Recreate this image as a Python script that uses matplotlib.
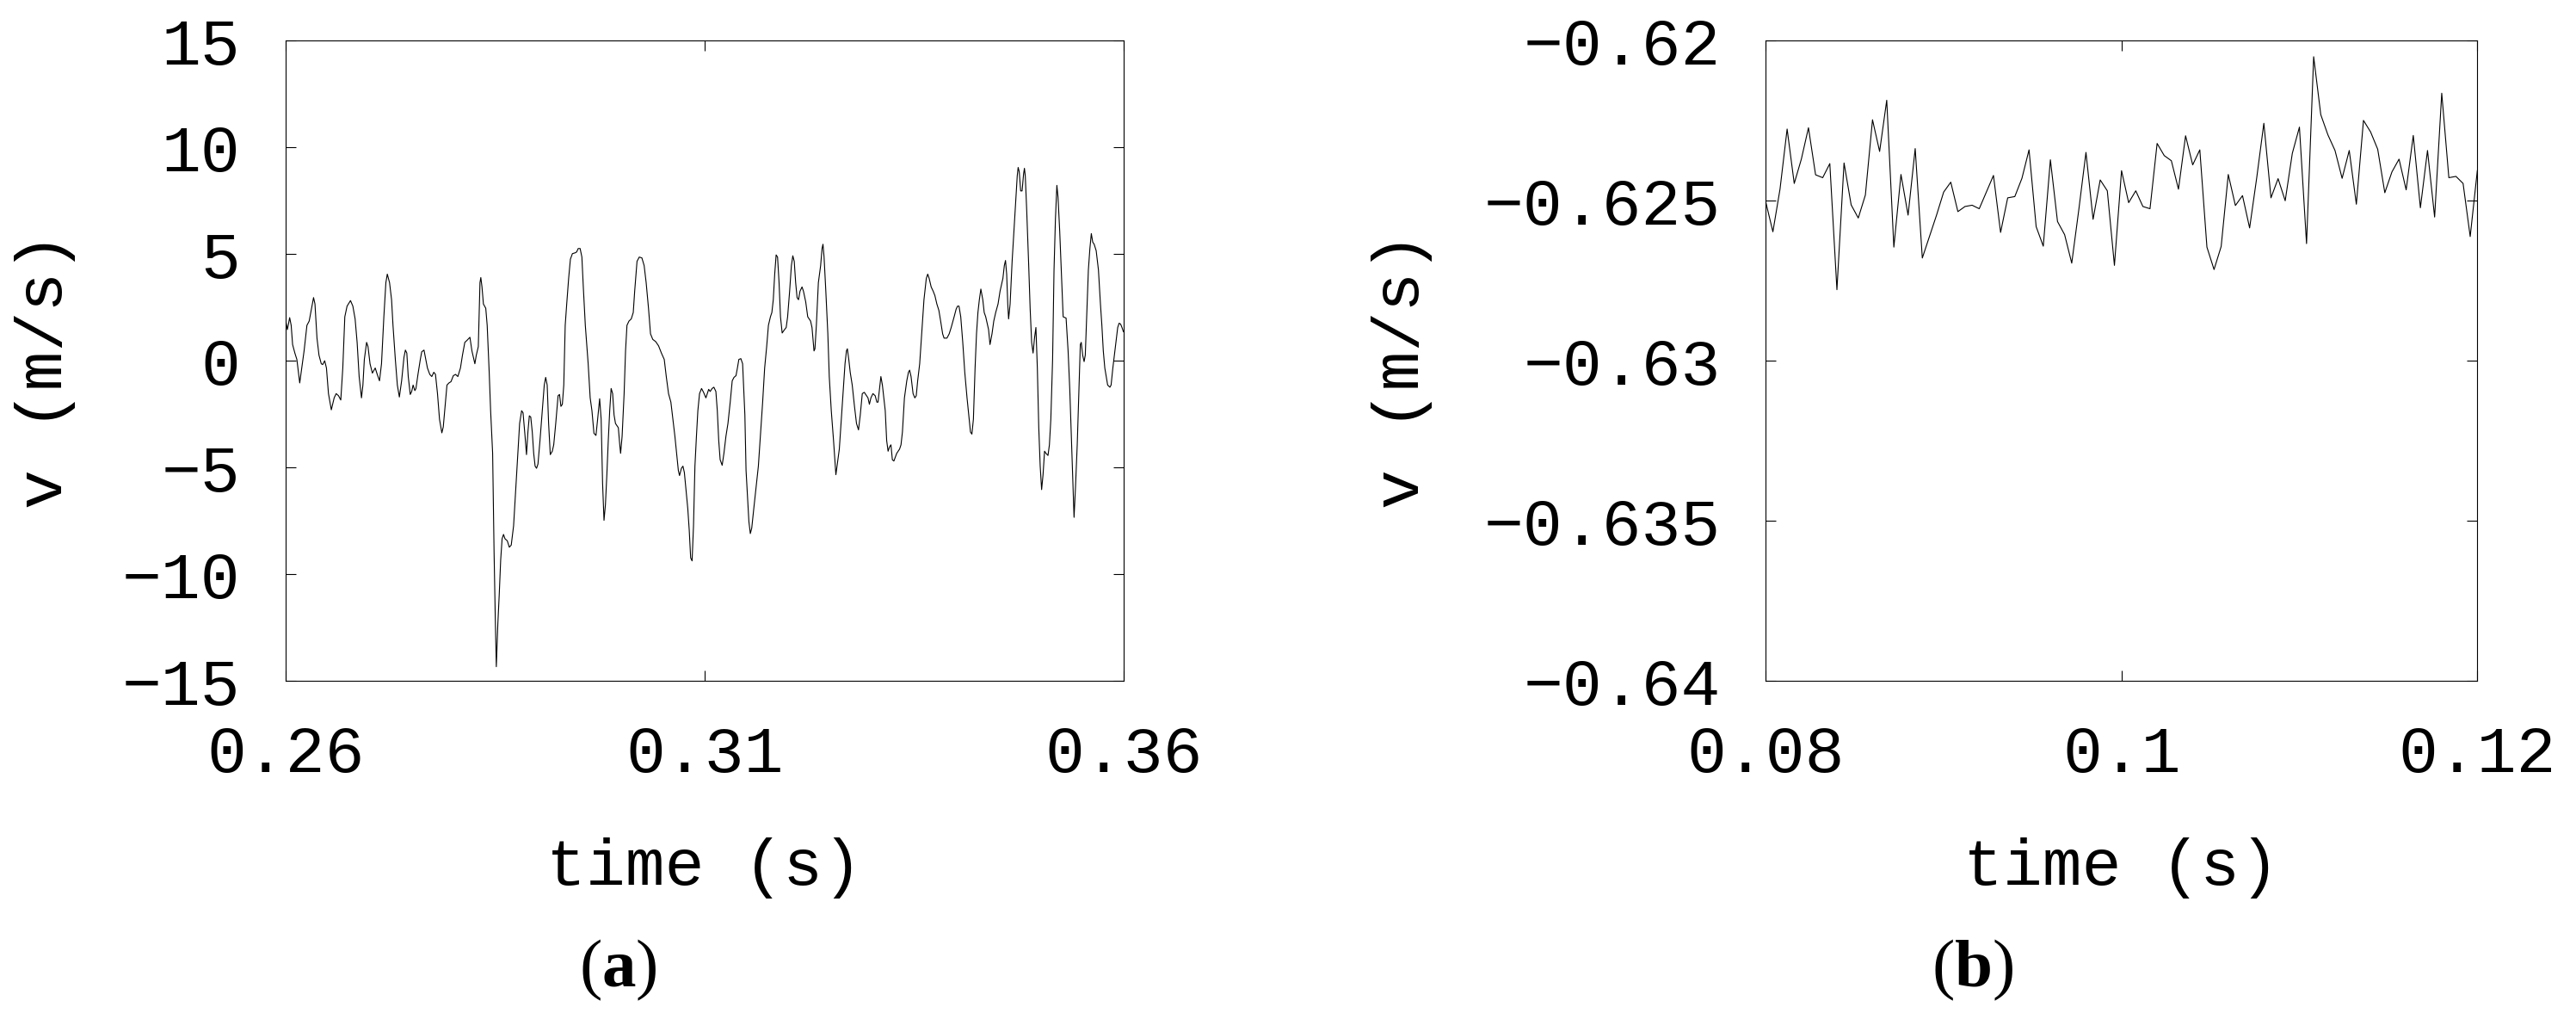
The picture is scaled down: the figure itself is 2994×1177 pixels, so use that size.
import matplotlib
matplotlib.use("Agg")
import matplotlib.pyplot as plt
from matplotlib.ticker import FixedLocator, FixedFormatter

# ---------------- data: panel (a) ----------------
t_a = [0.26000, 0.26024, 0.26051, 0.26069, 0.26086, 0.26113, 0.26137, 0.26171, 0.26195, 0.26223,
       0.26257, 0.26284, 0.26308, 0.26336, 0.26353, 0.26377, 0.26401, 0.26428, 0.26445, 0.26469,
       0.26490, 0.26514, 0.26548, 0.26582, 0.26606, 0.26634, 0.26661, 0.26685, 0.26709, 0.26736,
       0.26777, 0.26805, 0.26832, 0.26856, 0.26880, 0.26908, 0.26925, 0.26942, 0.26969, 0.26986,
       0.27010, 0.27038, 0.27072, 0.27096, 0.27123, 0.27147, 0.27175, 0.27199, 0.27216, 0.27243,
       0.27267, 0.27284, 0.27312, 0.27336, 0.27360, 0.27387, 0.27415, 0.27432, 0.27449, 0.27466,
       0.27490, 0.27507, 0.27524, 0.27545, 0.27558, 0.27582, 0.27610, 0.27627, 0.27654, 0.27671,
       0.27695, 0.27723, 0.27747, 0.27771, 0.27791, 0.27815, 0.27839, 0.27867, 0.27884, 0.27901,
       0.27928, 0.27952, 0.27976, 0.28004, 0.28031, 0.28058, 0.28089, 0.28113, 0.28141, 0.28168,
       0.28202, 0.28226, 0.28261, 0.28278, 0.28302, 0.28322, 0.28332, 0.28346, 0.28363, 0.28391,
       0.28408, 0.28432, 0.28449, 0.28473, 0.28490, 0.28504, 0.28517, 0.28535, 0.28552, 0.28569,
       0.28586, 0.28603, 0.28620, 0.28648, 0.28672, 0.28695, 0.28723, 0.28750, 0.28774, 0.28795,
       0.28819, 0.28836, 0.28860, 0.28877, 0.28894, 0.28911, 0.28928, 0.28946, 0.28963, 0.28980,
       0.28997, 0.29014, 0.29038, 0.29065, 0.29089, 0.29106, 0.29124, 0.29141, 0.29161, 0.29185,
       0.29202, 0.29226, 0.29254, 0.29271, 0.29288, 0.29305, 0.29322, 0.29339, 0.29357, 0.29380,
       0.29401, 0.29425, 0.29459, 0.29476, 0.29494, 0.29517, 0.29538, 0.29555, 0.29579, 0.29613,
       0.29637, 0.29658, 0.29682, 0.29706, 0.29726, 0.29750, 0.29768, 0.29785, 0.29802, 0.29819,
       0.29836, 0.29853, 0.29870, 0.29887, 0.29905, 0.29922, 0.29939, 0.29956, 0.29973, 0.29990,
       0.30000, 0.30018, 0.30042, 0.30059, 0.30076, 0.30100, 0.30127, 0.30151, 0.30168, 0.30196,
       0.30223, 0.30254, 0.30281, 0.30305, 0.30333, 0.30357, 0.30384, 0.30418, 0.30453, 0.30487,
       0.30521, 0.30545, 0.30572, 0.30600, 0.30624, 0.30648, 0.30668, 0.30689, 0.30703, 0.30726,
       0.30744, 0.30761, 0.30778, 0.30802, 0.30819, 0.30836, 0.30853, 0.30870, 0.30887, 0.30905,
       0.30922, 0.30942, 0.30966, 0.30990, 0.31018, 0.31051, 0.31069, 0.31092, 0.31113, 0.31137,
       0.31154, 0.31171, 0.31188, 0.31212, 0.31233, 0.31257, 0.31281, 0.31308, 0.31332, 0.31353,
       0.31377, 0.31394, 0.31411, 0.31435, 0.31456, 0.31469, 0.31483, 0.31497, 0.31514, 0.31531,
       0.31548, 0.31565, 0.31589, 0.31617, 0.31644, 0.31668, 0.31695, 0.31719, 0.31743, 0.31764,
       0.31788, 0.31805, 0.31822, 0.31839, 0.31856, 0.31873, 0.31891, 0.31908, 0.31928, 0.31949,
       0.31976, 0.31993, 0.32017, 0.32038, 0.32055, 0.32072, 0.32089, 0.32106, 0.32123, 0.32141,
       0.32165, 0.32182, 0.32209, 0.32233, 0.32267, 0.32284, 0.32308, 0.32319, 0.32336, 0.32360,
       0.32387, 0.32404, 0.32415, 0.32428, 0.32449, 0.32473, 0.32490, 0.32514, 0.32541, 0.32558,
       0.32569, 0.32586, 0.32610, 0.32634, 0.32654, 0.32678, 0.32695, 0.32706, 0.32723, 0.32740,
       0.32764, 0.32791, 0.32815, 0.32839, 0.32860, 0.32884, 0.32908, 0.32935, 0.32952, 0.32969,
       0.32987, 0.33011, 0.33038, 0.33058, 0.33072, 0.33089, 0.33106, 0.33124, 0.33141, 0.33158,
       0.33175, 0.33192, 0.33209, 0.33226, 0.33243, 0.33261, 0.33295, 0.33329, 0.33346, 0.33363,
       0.33387, 0.33415, 0.33435, 0.33449, 0.33466, 0.33490, 0.33511, 0.33528, 0.33545, 0.33569,
       0.33593, 0.33620, 0.33648, 0.33665, 0.33682, 0.33706, 0.33730, 0.33750, 0.33774, 0.33798,
       0.33819, 0.33843, 0.33860, 0.33894, 0.33921, 0.33945, 0.33980, 0.34004, 0.34021, 0.34038,
       0.34059, 0.34083, 0.34107, 0.34134, 0.34155, 0.34175, 0.34192, 0.34210, 0.34230, 0.34247,
       0.34264, 0.34281, 0.34299, 0.34322, 0.34339, 0.34357, 0.34374, 0.34391, 0.34408, 0.34432,
       0.34453, 0.34476, 0.34504, 0.34528, 0.34545, 0.34562, 0.34579, 0.34593, 0.34607, 0.34620,
       0.34630, 0.34648, 0.34672, 0.34699, 0.34716, 0.34733, 0.34744, 0.34757, 0.34774, 0.34791,
       0.34809, 0.34819, 0.34829, 0.34846, 0.34870, 0.34887, 0.34905, 0.34922, 0.34939, 0.34956,
       0.34973, 0.34990, 0.35007, 0.35024, 0.35041, 0.35059, 0.35076, 0.35100, 0.35117, 0.35134,
       0.35155, 0.35172, 0.35189, 0.35206, 0.35220, 0.35240, 0.35264, 0.35281, 0.35316, 0.35340,
       0.35360, 0.35377, 0.35394, 0.35411, 0.35428, 0.35449, 0.35469, 0.35486, 0.35497, 0.35514,
       0.35531, 0.35545, 0.35562, 0.35582, 0.35600, 0.35617, 0.35634, 0.35651, 0.35675, 0.35702,
       0.35726, 0.35743, 0.35760, 0.35778, 0.35795, 0.35812, 0.35839, 0.35853, 0.35874, 0.35898,
       0.35915, 0.35932, 0.35949, 0.35966, 0.35983, 0.36000]
v_a = [1.96, 1.46, 2.02, 1.66, 0.76, 0.36, 0.06, -1.04, -0.34, 0.46,
       1.66, 1.86, 2.36, 2.96, 2.66, 1.06, 0.26, -0.14, -0.18, 0.00,
       -0.34, -1.54, -2.30, -1.74, -1.54, -1.64, -1.84, -0.34, 2.06, 2.56,
       2.82, 2.56, 1.96, 0.86, -0.74, -1.74, -1.14, 0.06, 0.86, 0.66,
       -0.14, -0.58, -0.34, -0.64, -0.94, -0.14, 2.06, 3.66, 4.06, 3.66,
       2.86, 1.66, 0.06, -1.14, -1.70, -0.94, 0.16, 0.50, 0.36, -0.74,
       -1.58, -1.44, -1.14, -1.40, -1.30, -0.64, 0.06, 0.42, 0.50, 0.16,
       -0.34, -0.64, -0.74, -0.54, -0.64, -1.54, -2.74, -3.38, -3.10, -2.34,
       -1.14, -1.04, -0.98, -0.70, -0.64, -0.74, -0.34, 0.26, 0.86, 0.96,
       1.10, 0.46, -0.14, 0.26, 0.66, 3.66, 3.90, 3.46, 2.66, 2.46,
       1.66, -0.54, -2.34, -4.34, -8.94, -11.94, -14.34, -12.34, -10.94, -9.34,
       -8.34, -8.14, -8.34, -8.44, -8.74, -8.64, -7.74, -5.94, -4.34, -2.94,
       -2.34, -2.44, -3.54, -4.40, -3.34, -2.58, -2.64, -3.34, -4.34, -4.94,
       -5.04, -4.84, -3.74, -2.34, -1.14, -0.78, -1.14, -2.94, -4.40, -4.24,
       -3.94, -2.94, -1.64, -1.58, -2.14, -2.04, -1.14, 1.66, 2.66, 3.86,
       4.76, 5.02, 5.06, 5.10, 5.26, 5.26, 4.86, 3.46, 1.66, -0.14,
       -1.74, -2.34, -3.40, -3.50, -2.74, -1.78, -2.74, -5.74, -7.48, -6.74,
       -5.34, -3.74, -2.34, -1.30, -1.54, -2.54, -2.94, -3.04, -3.14, -3.94,
       -4.34, -3.54, -1.54, 0.46, 1.66, 1.86, 1.96, 2.26, 3.26, 4.66,
       4.86, 4.82, 4.46, 3.66, 2.46, 1.26, 1.00, 0.90, 0.70, 0.36,
       0.06, -0.74, -1.54, -1.94, -2.74, -3.54, -4.34, -5.14, -5.38, -5.04,
       -4.94, -5.24, -5.94, -6.94, -7.94, -9.24, -9.38, -7.74, -4.94, -3.54,
       -2.34, -1.54, -1.30, -1.48, -1.74, -1.34, -1.44, -1.30, -1.24, -1.44,
       -2.34, -3.74, -4.64, -4.90, -4.34, -3.54, -2.94, -1.94, -0.94, -0.78,
       -0.70, -0.34, 0.06, 0.10, -0.14, -1.34, -2.54, -5.14, -6.34, -7.54,
       -8.10, -7.84, -6.94, -5.94, -4.94, -3.54, -1.94, -0.34, 0.66, 1.66,
       2.06, 2.26, 2.86, 4.06, 4.96, 4.86, 3.66, 2.06, 1.30, 1.42,
       1.56, 2.06, 3.26, 4.46, 4.92, 4.66, 3.66, 2.96, 2.86, 3.26,
       3.46, 3.26, 2.76, 2.06, 1.86, 1.56, 0.46, 0.56, 1.66, 3.66,
       4.46, 5.26, 5.46, 4.86, 3.26, 1.26, -0.74, -2.34, -3.74, -4.74,
       -5.34, -4.84, -4.14, -2.74, -1.54, -0.14, 0.46, 0.56, 0.06, -0.54,
       -1.14, -2.14, -2.94, -3.24, -2.54, -1.54, -1.48, -1.64, -1.74, -2.04,
       -1.74, -1.54, -1.64, -1.94, -1.94, -1.34, -0.74, -1.14, -1.74, -2.34,
       -3.74, -4.24, -4.04, -3.94, -4.64, -4.70, -4.34, -4.14, -3.94, -3.34,
       -1.74, -0.94, -0.54, -0.44, -0.74, -1.54, -1.74, -1.64, -0.94, -0.14,
       1.26, 2.86, 3.86, 4.06, 3.86, 3.46, 3.26, 3.06, 2.66, 2.36,
       1.86, 1.26, 1.06, 1.06, 1.26, 1.56, 2.06, 2.42, 2.56, 2.56,
       2.06, 0.86, -0.54, -1.74, -2.54, -3.34, -3.44, -2.74, -0.34, 1.26,
       2.26, 2.86, 3.36, 2.86, 2.26, 2.06, 1.76, 1.46, 0.76, 1.26,
       1.86, 2.26, 2.66, 3.26, 3.56, 3.86, 4.46, 4.70, 4.06, 2.66,
       1.96, 2.66, 4.66, 6.46, 7.66, 8.66, 9.06, 8.86, 7.96, 7.96,
       8.76, 9.02, 8.66, 7.06, 4.46, 2.46, 0.86, 0.36, 1.06, 1.56,
       -0.34, -3.14, -4.94, -6.04, -5.34, -4.24, -4.34, -4.44, -3.94, -2.74,
       0.06, 4.26, 6.66, 8.22, 7.66, 6.06, 3.66, 2.06, 2.00, 0.46,
       -1.34, -3.34, -5.34, -7.34, -5.94, -3.94, -1.34, 0.76, 0.86, 0.26,
       -0.04, 0.26, 2.06, 4.26, 5.26, 5.96, 5.56, 5.46, 5.16, 4.26,
       2.66, 1.66, 0.46, -0.34, -0.74, -1.14, -1.24, -1.14, -0.34, 0.46,
       1.06, 1.56, 1.76, 1.72, 1.56, 1.36]

# ---------------- data: panel (b) ----------------
t_b = [0.0800, 0.0804, 0.0808, 0.0812, 0.0816, 0.0820, 0.0824, 0.0828, 0.0832, 0.0836,
       0.0840, 0.0844, 0.0848, 0.0852, 0.0856, 0.0860, 0.0864, 0.0868, 0.0872, 0.0876,
       0.0880, 0.0884, 0.0888, 0.0892, 0.0896, 0.0900, 0.0904, 0.0908, 0.0912, 0.0916,
       0.0920, 0.0924, 0.0928, 0.0932, 0.0936, 0.0940, 0.0944, 0.0948, 0.0952, 0.0956,
       0.0960, 0.0964, 0.0968, 0.0972, 0.0976, 0.0980, 0.0984, 0.0988, 0.0992, 0.0996,
       0.1000, 0.1004, 0.1008, 0.1012, 0.1016, 0.1020, 0.1024, 0.1028, 0.1032, 0.1036,
       0.1040, 0.1044, 0.1048, 0.1052, 0.1056, 0.1060, 0.1064, 0.1068, 0.1072, 0.1076,
       0.1080, 0.1084, 0.1088, 0.1092, 0.1096, 0.1100, 0.1104, 0.1108, 0.1112, 0.1116,
       0.1120, 0.1124, 0.1128, 0.1132, 0.1136, 0.1140, 0.1144, 0.1148, 0.1152, 0.1156,
       0.1160, 0.1164, 0.1168, 0.1172, 0.1176, 0.1180, 0.1184, 0.1188, 0.1192, 0.1196,
       0.1200]
v_b = [-0.62504, -0.62597, -0.62464, -0.62276, -0.62446, -0.62370, -0.62272, -0.62419, -0.62428, -0.62384,
       -0.62778, -0.62382, -0.62513, -0.62554, -0.62482, -0.62247, -0.62346, -0.62186, -0.62645, -0.62418,
       -0.62545, -0.62337, -0.62679, -0.62612, -0.62545, -0.62473, -0.62442, -0.62534, -0.62518, -0.62514,
       -0.62525, -0.62473, -0.62421, -0.62599, -0.62491, -0.62487, -0.62430, -0.62341, -0.62581, -0.62642,
       -0.62372, -0.62565, -0.62606, -0.62695, -0.62527, -0.62349, -0.62558, -0.62435, -0.62469, -0.62702,
       -0.62406, -0.62506, -0.62469, -0.62518, -0.62525, -0.62321, -0.62359, -0.62375, -0.62464, -0.62297,
       -0.62388, -0.62341, -0.62645, -0.62715, -0.62643, -0.62418, -0.62515, -0.62484, -0.62585, -0.62428,
       -0.62258, -0.62491, -0.62431, -0.62500, -0.62352, -0.62270, -0.62634, -0.62050, -0.62231, -0.62294,
       -0.62343, -0.62430, -0.62343, -0.62511, -0.62249, -0.62285, -0.62339, -0.62475, -0.62410, -0.62370,
       -0.62466, -0.62296, -0.62522, -0.62343, -0.62551, -0.62164, -0.62428, -0.62424, -0.62446, -0.62612,
       -0.62406]

xticks_a = [0.26, 0.31, 0.36]
xticklabels_a = ["0.26", "0.31", "0.36"]
yticks_a = [-15, -10, -5, 0, 5, 10, 15]
yticklabels_a = ["\u221215", "\u221210", "\u22125", "0", "5", "10", "15"]

xticks_b = [0.08, 0.10, 0.12]
xticklabels_b = ["0.08", "0.1", "0.12"]
yticks_b = [-0.64, -0.635, -0.63, -0.625, -0.62]
yticklabels_b = ["\u22120.64", "\u22120.635", "\u22120.63", "\u22120.625", "\u22120.62"]

xlabel = "time (s)"
ylabel = "v (m/s)"

# ---------------- figure ----------------
W, H = 2994, 1177
DPI = 100
plt.rcParams['mathtext.fontset'] = 'custom'
plt.rcParams['mathtext.rm'] = 'Liberation Serif'
plt.rcParams['mathtext.bf'] = 'Liberation Serif:bold'
plt.rcParams['axes.unicode_minus'] = True

MONO = 'Liberation Mono'
FS = 55

fig = plt.figure(figsize=(W / DPI, H / DPI), dpi=DPI, facecolor='white')

def px_rect(x0, x1, y0, y1):
    return [x0 / W, 1 - y1 / H, (x1 - x0) / W, (y1 - y0) / H]

ax_a = fig.add_axes(px_rect(331.7, 1305.7, 47.3, 791))
ax_b = fig.add_axes(px_rect(2052.3, 2879.3, 47.3, 791))

def style(ax, xt, xtl, yt, ytl, xlim, ylim):
    ax.set_xlim(*xlim)
    ax.set_ylim(*ylim)
    ax.xaxis.set_major_locator(FixedLocator(xt))
    ax.xaxis.set_major_formatter(FixedFormatter(xtl))
    ax.yaxis.set_major_locator(FixedLocator(yt))
    ax.yaxis.set_major_formatter(FixedFormatter(ytl))
    ax.tick_params(axis='both', which='major', direction='in', length=8.5, width=0.8,
                   top=True, right=True, colors='black')
    ax.tick_params(axis='x', pad=37)
    ax.tick_params(axis='y', pad=38)
    for lab in ax.get_xticklabels() + ax.get_yticklabels():
        lab.set_fontfamily(MONO)
        lab.set_fontsize(FS)
    for s in ax.spines.values():
        s.set_linewidth(0.8)
        s.set_color('black')

ax_a.plot(t_a, v_a, color='black', lw=0.8)
style(ax_a, xticks_a, xticklabels_a, yticks_a, yticklabels_a, (0.26, 0.36), (-15, 15))

ax_b.plot(t_b, v_b, color='black', lw=0.8)
style(ax_b, xticks_b, xticklabels_b, yticks_b, yticklabels_b, (0.08, 0.12), (-0.64, -0.62))

# axis labels
for cx in (818.7, 2465.8):
    fig.text(cx / W, 1 - 1008 / H, xlabel, ha='center', va='center',
             fontfamily=MONO, fontsize=FS)
for cx in (52, 1629):
    fig.text(cx / W, 1 - 430 / H, ylabel, ha='center', va='center', rotation=90,
             fontfamily=MONO, fontsize=FS)

# panel captions
fig.text(718 / W, 1 - 1127 / H, r'$(\mathbf{a})$', ha='center', va='center', fontsize=57)
fig.text(2293 / W, 1 - 1127 / H, r'$(\mathbf{b})$', ha='center', va='center', fontsize=57)

fig.savefig('out.png', dpi=DPI, facecolor='white')
